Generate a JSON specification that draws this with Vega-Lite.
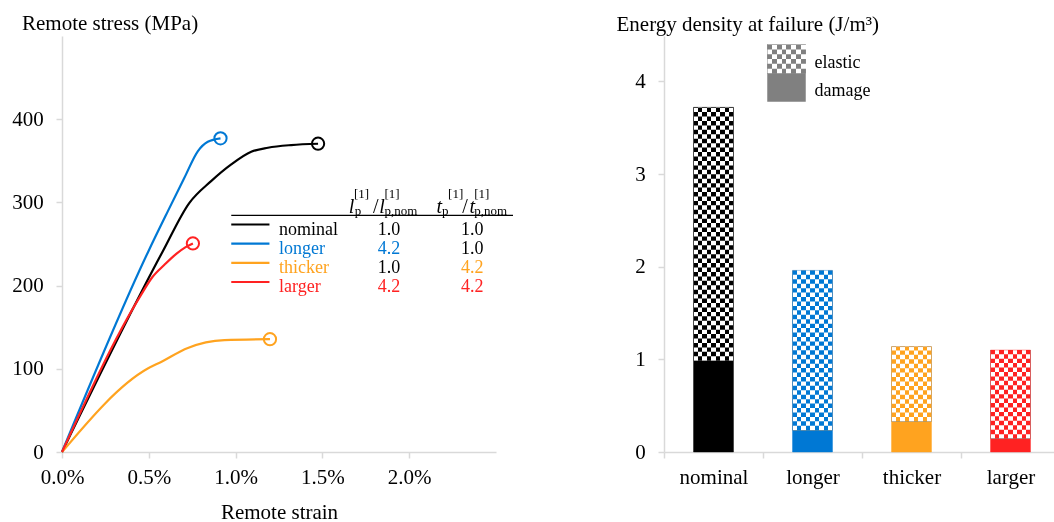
{
  "$schema": "https://vega.github.io/schema/vega-lite/v6.json",
  "background": "white",
  "padding": {"left": 11, "top": 12, "right": 0, "bottom": 0},
  "spacing": 168,
  "bounds": "flush",
  "config": {
    "view": {"stroke": null},
    "font": "Liberation Serif",
    "axis": {
      "labelFont": "Liberation Serif", "titleFont": "Liberation Serif",
      "labelFontSize": 21, "titleFontSize": 21, "titleFontWeight": "normal",
      "labelColor": "#000000", "titleColor": "#000000",
      "domainColor": "#d9d9d9", "tickColor": "#d9d9d9",
      "domainWidth": 1.5, "tickWidth": 1.5, "tickSize": 6, "grid": false, "labelFlush": false
    },
    "text": {"font": "Liberation Serif"}
  },
  "datasets": {
    "curves": [
      {"series": "nominal", "strain": 0, "stress": 0},
      {"series": "nominal", "strain": 0.0058, "stress": 241},
      {"series": "nominal", "strain": 0.00734, "stress": 299.5},
      {"series": "nominal", "strain": 0.00859, "stress": 325.6},
      {"series": "nominal", "strain": 0.00975, "stress": 345.7},
      {"series": "nominal", "strain": 0.0109, "stress": 360.9},
      {"series": "nominal", "strain": 0.01186, "stress": 365.7},
      {"series": "nominal", "strain": 0.0132, "stress": 368.9},
      {"series": "nominal", "strain": 0.01475, "stress": 370.5},
      {"series": "longer", "strain": 0, "stress": 0},
      {"series": "longer", "strain": 0.00498, "stress": 241.4},
      {"series": "longer", "strain": 0.0061, "stress": 289.5},
      {"series": "longer", "strain": 0.00705, "stress": 329.6},
      {"series": "longer", "strain": 0.00783, "stress": 361.7},
      {"series": "longer", "strain": 0.0084, "stress": 372.9},
      {"series": "longer", "strain": 0.00913, "stress": 377},
      {"series": "thicker", "strain": 0, "stress": 0},
      {"series": "thicker", "strain": 0.00494, "stress": 100.3},
      {"series": "thicker", "strain": 0.00571, "stress": 108.3},
      {"series": "thicker", "strain": 0.00725, "stress": 125.1},
      {"series": "thicker", "strain": 0.00936, "stress": 134.4},
      {"series": "thicker", "strain": 0.01198, "stress": 135.6},
      {"series": "larger", "strain": 0, "stress": 0},
      {"series": "larger", "strain": 0.0045, "stress": 187},
      {"series": "larger", "strain": 0.0052, "stress": 210},
      {"series": "larger", "strain": 0.0059, "stress": 225},
      {"series": "larger", "strain": 0.0066, "stress": 238.5},
      {"series": "larger", "strain": 0.0071, "stress": 246},
      {"series": "larger", "strain": 0.00754, "stress": 250.7}
    ],
    "table": [
      {"series": "nominal", "l": "1.0", "t": "1.0"},
      {"series": "longer", "l": "4.2", "t": "1.0"},
      {"series": "thicker", "l": "1.0", "t": "4.2"},
      {"series": "larger", "l": "4.2", "t": "4.2"}
    ],
    "energy": [
      {"series": "nominal", "damage": 0.985, "total": 3.72},
      {"series": "longer", "damage": 0.235, "total": 1.96},
      {"series": "thicker", "damage": 0.33, "total": 1.137},
      {"series": "larger", "damage": 0.145, "total": 1.1}
    ]
  },
  "hconcat": [
    {
      "width": 434,
      "height": 416,
      "layer": [
        {
          "layer": [
            {
              "data": {"name": "curves"},
              "mark": {"type": "line", "strokeWidth": 2.2, "interpolate": "monotone"},
              "encoding": {
                "x": {"field": "strain", "type": "quantitative", "scale": {"domain": [0, 0.025], "nice": false, "zero": false},
                  "axis": {"values": [0, 0.005, 0.01, 0.015, 0.02], "format": ".1%", "title": "Remote strain", "titleY": 66, "titleBaseline": "alphabetic", "labelBaseline": "alphabetic", "labelPadding": 25}},
                "y": {"field": "stress", "type": "quantitative", "scale": {"domain": [0, 500], "nice": false},
                  "axis": {"values": [0, 100, 200, 300, 400], "title": "Remote stress (MPa)", "titleAngle": 0, "titleAlign": "left", "titleBaseline": "alphabetic", "titleX": -40.5, "titleY": -6.7, "labelPadding": 12.7}},
                "color": {"field": "series", "type": "nominal", "scale": {"domain": ["nominal", "longer", "thicker", "larger"], "range": ["#000000", "#0078d4", "#ffa31f", "#ff2222"]}, "legend": null}
              }
            },
            {
              "data": {"name": "curves"},
              "transform": [
                {"joinaggregate": [{"op": "max", "field": "strain", "as": "maxStrain"}], "groupby": ["series"]},
                {"filter": "datum.strain === datum.maxStrain"}
              ],
              "mark": {"type": "point", "shape": "circle", "filled": false, "size": 150, "strokeWidth": 2, "opacity": 1},
              "encoding": {
                "x": {"field": "strain", "type": "quantitative"},
                "y": {"field": "stress", "type": "quantitative"},
                "color": {"field": "series", "type": "nominal", "legend": null}
              }
            },
            {
              "data": {"values": [{}]},
              "mark": {"type": "rule", "color": "#000000", "strokeWidth": 1.3, "x2Offset": 17},
              "encoding": {
                "x": {"datum": 0.00975, "type": "quantitative"},
                "x2": {"datum": 0.025},
                "y": {"datum": 284.5, "type": "quantitative"}
              }
            },
            {
              "data": {"values": [{}]},
              "mark": {"type": "text", "text": "l", "fontStyle": "italic", "fontSize": 20, "align": "left", "baseline": "alphabetic", "color": "#000000"},
              "encoding": {"x": {"datum": 0.01652, "type": "quantitative"}, "y": {"datum": 287.3, "type": "quantitative"}}
            },
            {
              "data": {"values": [{}]},
              "mark": {"type": "text", "text": "p", "fontSize": 13, "align": "left", "baseline": "alphabetic", "color": "#000000"},
              "encoding": {"x": {"datum": 0.01686, "type": "quantitative"}, "y": {"datum": 284.3, "type": "quantitative"}}
            },
            {
              "data": {"values": [{}]},
              "mark": {"type": "text", "text": "[1]", "fontSize": 13, "align": "left", "baseline": "alphabetic", "color": "#000000"},
              "encoding": {"x": {"datum": 0.01682, "type": "quantitative"}, "y": {"datum": 305.3, "type": "quantitative"}}
            },
            {
              "data": {"values": [{}]},
              "mark": {"type": "text", "text": "/", "fontSize": 20, "align": "left", "baseline": "alphabetic", "color": "#000000"},
              "encoding": {"x": {"datum": 0.01792, "type": "quantitative"}, "y": {"datum": 287.3, "type": "quantitative"}}
            },
            {
              "data": {"values": [{}]},
              "mark": {"type": "text", "text": "l", "fontStyle": "italic", "fontSize": 20, "align": "left", "baseline": "alphabetic", "color": "#000000"},
              "encoding": {"x": {"datum": 0.01828, "type": "quantitative"}, "y": {"datum": 287.3, "type": "quantitative"}}
            },
            {
              "data": {"values": [{}]},
              "mark": {"type": "text", "text": "p,nom", "fontSize": 13, "align": "left", "baseline": "alphabetic", "color": "#000000"},
              "encoding": {"x": {"datum": 0.01857, "type": "quantitative"}, "y": {"datum": 284.3, "type": "quantitative"}}
            },
            {
              "data": {"values": [{}]},
              "mark": {"type": "text", "text": "[1]", "fontSize": 13, "align": "left", "baseline": "alphabetic", "color": "#000000"},
              "encoding": {"x": {"datum": 0.01857, "type": "quantitative"}, "y": {"datum": 305.3, "type": "quantitative"}}
            },
            {
              "data": {"values": [{}]},
              "mark": {"type": "text", "text": "t", "fontStyle": "italic", "fontSize": 20, "align": "left", "baseline": "alphabetic", "color": "#000000"},
              "encoding": {"x": {"datum": 0.02157, "type": "quantitative"}, "y": {"datum": 287.3, "type": "quantitative"}}
            },
            {
              "data": {"values": [{}]},
              "mark": {"type": "text", "text": "p", "fontSize": 13, "align": "left", "baseline": "alphabetic", "color": "#000000"},
              "encoding": {"x": {"datum": 0.02189, "type": "quantitative"}, "y": {"datum": 284.3, "type": "quantitative"}}
            },
            {
              "data": {"values": [{}]},
              "mark": {"type": "text", "text": "[1]", "fontSize": 13, "align": "left", "baseline": "alphabetic", "color": "#000000"},
              "encoding": {"x": {"datum": 0.02224, "type": "quantitative"}, "y": {"datum": 305.3, "type": "quantitative"}}
            },
            {
              "data": {"values": [{}]},
              "mark": {"type": "text", "text": "/", "fontSize": 20, "align": "left", "baseline": "alphabetic", "color": "#000000"},
              "encoding": {"x": {"datum": 0.02305, "type": "quantitative"}, "y": {"datum": 287.3, "type": "quantitative"}}
            },
            {
              "data": {"values": [{}]},
              "mark": {"type": "text", "text": "t", "fontStyle": "italic", "fontSize": 20, "align": "left", "baseline": "alphabetic", "color": "#000000"},
              "encoding": {"x": {"datum": 0.02347, "type": "quantitative"}, "y": {"datum": 287.3, "type": "quantitative"}}
            },
            {
              "data": {"values": [{}]},
              "mark": {"type": "text", "text": "p,nom", "fontSize": 13, "align": "left", "baseline": "alphabetic", "color": "#000000"},
              "encoding": {"x": {"datum": 0.02374, "type": "quantitative"}, "y": {"datum": 284.3, "type": "quantitative"}}
            },
            {
              "data": {"values": [{}]},
              "mark": {"type": "text", "text": "[1]", "fontSize": 13, "align": "left", "baseline": "alphabetic", "color": "#000000"},
              "encoding": {"x": {"datum": 0.02374, "type": "quantitative"}, "y": {"datum": 305.3, "type": "quantitative"}}
            }
          ]
        },
        {
          "data": {"name": "table"},
          "layer": [
            {
              "mark": {"type": "rule", "strokeWidth": 2.2},
              "encoding": {
                "x": {"datum": 0.00975, "type": "quantitative"},
                "x2": {"datum": 0.01195},
                "y": {"field": "series", "type": "nominal", "scale": {"type": "point", "domain": ["nominal", "longer", "thicker", "larger"], "range": [188.5, 246], "padding": 0}, "axis": null},
                "color": {"field": "series", "type": "nominal", "scale": {"domain": ["nominal", "longer", "thicker", "larger"], "range": ["#000000", "#0078d4", "#ffa31f", "#ff2222"]}, "legend": null}
              }
            },
            {
              "mark": {"type": "text", "align": "left", "baseline": "alphabetic", "dy": 10, "fontSize": 18},
              "encoding": {
                "x": {"datum": 0.0125, "type": "quantitative"},
                "y": {"field": "series", "type": "nominal", "axis": null},
                "text": {"field": "series"},
                "color": {"field": "series", "type": "nominal", "legend": null}
              }
            },
            {
              "mark": {"type": "text", "align": "center", "baseline": "alphabetic", "dy": 10, "fontSize": 18},
              "encoding": {
                "x": {"datum": 0.01883, "type": "quantitative"},
                "y": {"field": "series", "type": "nominal", "axis": null},
                "text": {"field": "l"},
                "color": {"condition": {"test": "datum.l === '4.2'", "field": "series", "type": "nominal", "legend": null}, "value": "#000000"}
              }
            },
            {
              "mark": {"type": "text", "align": "center", "baseline": "alphabetic", "dy": 10, "fontSize": 18},
              "encoding": {
                "x": {"datum": 0.02363, "type": "quantitative"},
                "y": {"field": "series", "type": "nominal", "axis": null},
                "text": {"field": "t"},
                "color": {"condition": {"test": "datum.t === '4.2'", "field": "series", "type": "nominal", "legend": null}, "value": "#000000"}
              }
            }
          ]
        }
      ],
      "resolve": {"scale": {"y": "independent"}}
    },
    {
      "width": 396,
      "height": 416,
      "encoding": {
        "x": {"field": "series", "type": "nominal", "scale": {"domain": ["nominal", "longer", "thicker", "larger"], "paddingInner": 0, "paddingOuter": 0},
          "axis": {"title": null, "labelAngle": 0, "tickBand": "extent", "labelBaseline": "alphabetic", "labelPadding": 25}}
      },
      "layer": [
        {
          "data": {"name": "energy"},
          "mark": {"type": "bar", "size": 40},
          "encoding": {
            "y": {"field": "damage", "type": "quantitative", "scale": {"domain": [0, 4.49], "nice": false},
              "axis": {"values": [0, 1, 2, 3, 4], "format": "d", "title": "Energy density at failure (J/m³)", "titleAngle": 0, "titleAlign": "left", "titleBaseline": "alphabetic", "titleX": -48, "titleY": -5.5, "labelPadding": 12.7}},
            "color": {"field": "series", "type": "nominal", "scale": {"domain": ["nominal", "longer", "thicker", "larger"], "range": ["#000000", "#0078d4", "#ffa31f", "#ff2222"]}, "legend": null}
          }
        },
        {
          "data": {"name": "energy"},
          "mark": {"type": "rule", "strokeWidth": 40, "strokeDash": [4.44, 4.44], "strokeCap": "butt", "color": "#000000"},
          "encoding": {
            "y": {"field": "damage", "type": "quantitative"},
            "y2": {"field": "total"}
          }
        },
        {
          "data": {"name": "energy"},
          "mark": {"type": "bar", "size": 40, "blend": "difference",
            "fill": {"gradient": "linear", "x1": 0, "y1": 0, "x2": 1, "y2": 0, "stops": [
              {"offset": 0, "color": "#ffffff"}, {"offset": 0.1111, "color": "#ffffff"},
              {"offset": 0.1111, "color": "#000000"}, {"offset": 0.2222, "color": "#000000"},
              {"offset": 0.2222, "color": "#ffffff"}, {"offset": 0.3333, "color": "#ffffff"},
              {"offset": 0.3333, "color": "#000000"}, {"offset": 0.4444, "color": "#000000"},
              {"offset": 0.4444, "color": "#ffffff"}, {"offset": 0.5556, "color": "#ffffff"},
              {"offset": 0.5556, "color": "#000000"}, {"offset": 0.6667, "color": "#000000"},
              {"offset": 0.6667, "color": "#ffffff"}, {"offset": 0.7778, "color": "#ffffff"},
              {"offset": 0.7778, "color": "#000000"}, {"offset": 0.8889, "color": "#000000"},
              {"offset": 0.8889, "color": "#ffffff"}, {"offset": 1, "color": "#ffffff"}
            ]}},
          "encoding": {
            "y": {"field": "damage", "type": "quantitative"},
            "y2": {"field": "total"}
          }
        },
        {
          "data": {"name": "energy"},
          "mark": {"type": "bar", "size": 40, "blend": "screen"},
          "encoding": {
            "y": {"field": "damage", "type": "quantitative"},
            "y2": {"field": "total"},
            "color": {"field": "series", "type": "nominal", "legend": null}
          }
        },
        {
          "data": {"name": "energy"},
          "mark": {"type": "bar", "size": 40, "fillOpacity": 0, "strokeWidth": 1, "strokeOpacity": 0.4},
          "encoding": {
            "y": {"field": "total", "type": "quantitative"},
            "stroke": {"field": "series", "type": "nominal", "scale": {"domain": ["nominal", "longer", "thicker", "larger"], "range": ["#000000", "#0078d4", "#ffa31f", "#ff2222"]}, "legend": null}
          }
        },
        {
          "data": {"values": [{}]},
          "mark": {"type": "bar", "size": 38.5, "xOffset": -26, "color": "#808080"},
          "encoding": {
            "x": {"datum": "longer"},
            "y": {"datum": 3.779, "type": "quantitative"},
            "y2": {"datum": 4.086}
          }
        },
        {
          "data": {"values": [{}]},
          "mark": {"type": "rule", "strokeWidth": 38.5, "strokeDash": [4.8, 4.8], "strokeCap": "butt", "xOffset": -26, "color": "#000000"},
          "encoding": {
            "x": {"datum": "longer"},
            "y": {"datum": 4.086, "type": "quantitative"},
            "y2": {"datum": 4.40}
          }
        },
        {
          "data": {"values": [{}]},
          "mark": {"type": "bar", "size": 38.5, "xOffset": -26, "blend": "difference",
            "fill": {"gradient": "linear", "x1": 0, "y1": 0, "x2": 1, "y2": 0, "stops": [
              {"offset": 0, "color": "#ffffff"}, {"offset": 0.125, "color": "#ffffff"},
              {"offset": 0.125, "color": "#000000"}, {"offset": 0.25, "color": "#000000"},
              {"offset": 0.25, "color": "#ffffff"}, {"offset": 0.375, "color": "#ffffff"},
              {"offset": 0.375, "color": "#000000"}, {"offset": 0.5, "color": "#000000"},
              {"offset": 0.5, "color": "#ffffff"}, {"offset": 0.625, "color": "#ffffff"},
              {"offset": 0.625, "color": "#000000"}, {"offset": 0.75, "color": "#000000"},
              {"offset": 0.75, "color": "#ffffff"}, {"offset": 0.875, "color": "#ffffff"},
              {"offset": 0.875, "color": "#000000"}, {"offset": 1, "color": "#000000"}
            ]}},
          "encoding": {
            "x": {"datum": "longer"},
            "y": {"datum": 4.086, "type": "quantitative"},
            "y2": {"datum": 4.40}
          }
        },
        {
          "data": {"values": [{}]},
          "mark": {"type": "bar", "size": 38.5, "xOffset": -26, "blend": "screen", "color": "#808080"},
          "encoding": {
            "x": {"datum": "longer"},
            "y": {"datum": 4.086, "type": "quantitative"},
            "y2": {"datum": 4.40}
          }
        },
        {
          "data": {"values": [{}]},
          "mark": {"type": "text", "text": "elastic", "fontSize": 18, "align": "left", "baseline": "alphabetic", "xOffset": 2, "color": "#000000"},
          "encoding": {
            "x": {"datum": "longer"},
            "y": {"datum": 4.148, "type": "quantitative"}
          }
        },
        {
          "data": {"values": [{}]},
          "mark": {"type": "text", "text": "damage", "fontSize": 18, "align": "left", "baseline": "alphabetic", "xOffset": 2, "color": "#000000"},
          "encoding": {
            "x": {"datum": "longer"},
            "y": {"datum": 3.842, "type": "quantitative"}
          }
        }
      ]
    }
  ]
}
